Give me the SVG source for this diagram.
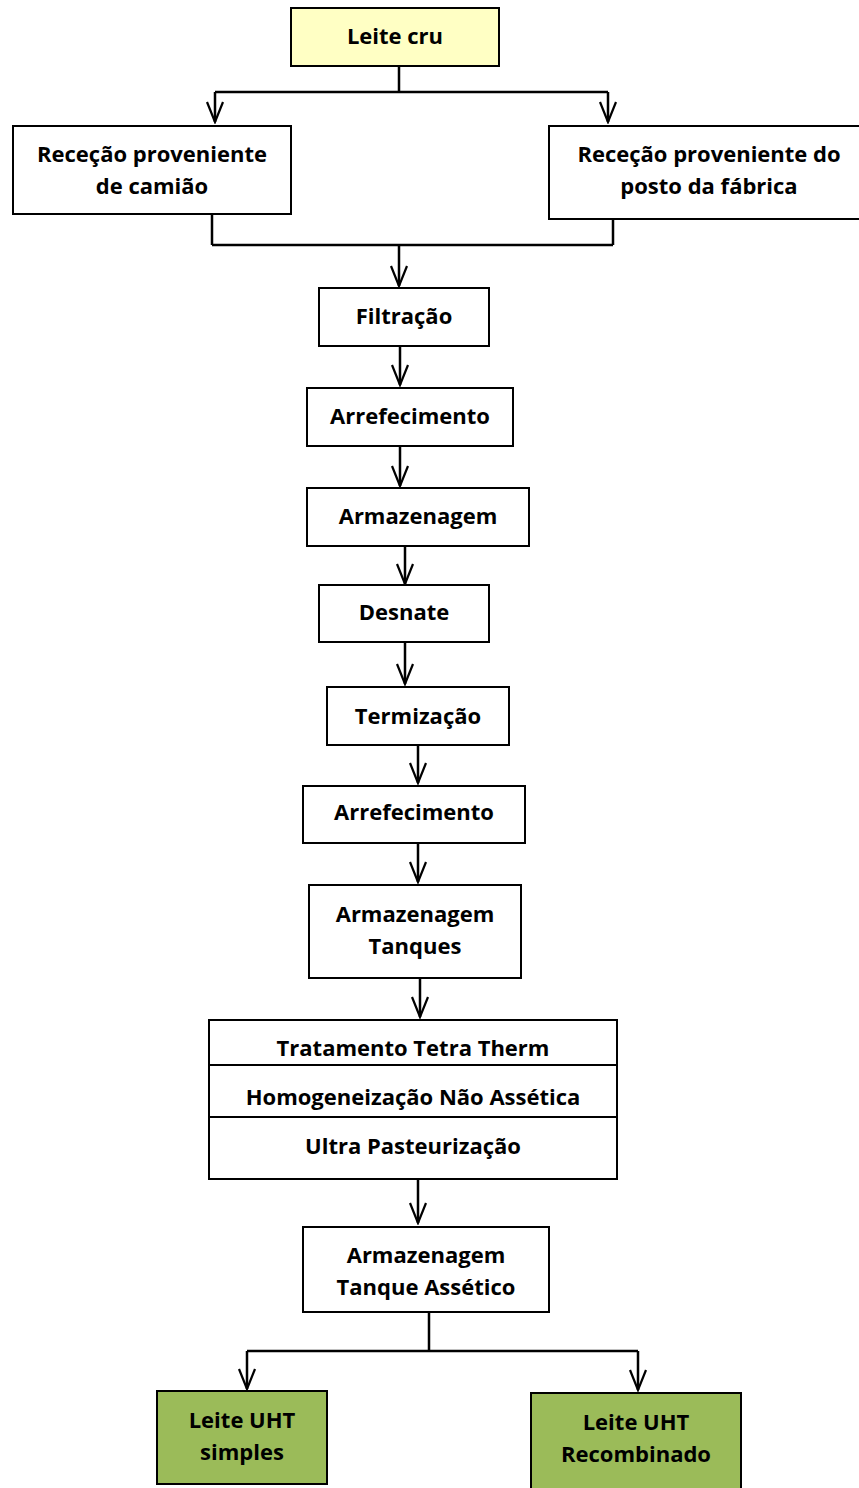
<svg xmlns="http://www.w3.org/2000/svg" width="859" height="1488" viewBox="0 0 859 1488">
<defs>
<style>
.box{fill:#fff;stroke:#000;stroke-width:2}
.start{fill:#ffffc4;stroke:#000;stroke-width:2}
.end{fill:#9bbb59;stroke:#000;stroke-width:2}
.t{font-family:"Open Sans",Lato,"Liberation Sans",sans-serif;font-weight:bold;font-size:22px;fill:#000;text-anchor:middle;dominant-baseline:central}
.c{fill:none;stroke:#000;stroke-width:2.5}
</style>
<marker id="ah" viewBox="0 0 24 20" refX="22" refY="10" markerWidth="24" markerHeight="20" markerUnits="userSpaceOnUse" orient="auto">
<path d="M2 2 L22 10 L2 18" fill="none" stroke="#000" stroke-width="2.2"/>
</marker>
</defs>
<g id="connectors">
<path class="c" d="M399 66 V92 M215 92 H608"/>
<path class="c" d="M215 92 V122" marker-end="url(#ah)"/>
<path class="c" d="M608 92 V122" marker-end="url(#ah)"/>
<path class="c" d="M212 214 V245 M613 219 V245 M212 245 H613"/>
<path class="c" d="M399 245 V286" marker-end="url(#ah)"/>
<path class="c" d="M400 346 V385" marker-end="url(#ah)"/>
<path class="c" d="M400 446 V486" marker-end="url(#ah)"/>
<path class="c" d="M405 546 V584" marker-end="url(#ah)"/>
<path class="c" d="M405 642 V684" marker-end="url(#ah)"/>
<path class="c" d="M418 745 V783" marker-end="url(#ah)"/>
<path class="c" d="M418 843 V882" marker-end="url(#ah)"/>
<path class="c" d="M420 978 V1017" marker-end="url(#ah)"/>
<path class="c" d="M418 1179 V1223" marker-end="url(#ah)"/>
<path class="c" d="M429 1312 V1351 M247 1351 H638"/>
<path class="c" d="M247 1351 V1389" marker-end="url(#ah)"/>
<path class="c" d="M638 1351 V1390" marker-end="url(#ah)"/>
</g>
<g id="n-leite-cru"><rect class="start" x="291" y="8" width="208" height="58"/><text class="t" x="395" y="35">Leite cru</text></g>
<g id="n-rececao-camiao"><rect class="box" x="13" y="126" width="278" height="88"/><text class="t" x="152" y="153">Receção proveniente</text><text class="t" x="152" y="185">de camião</text></g>
<g id="n-rececao-posto"><rect class="box" x="549" y="126" width="312" height="93"/><text class="t" x="709" y="153">Receção proveniente do</text><text class="t" x="709" y="185">posto da fábrica</text></g>
<g id="n-filtracao"><rect class="box" x="319" y="288" width="170" height="58"/><text class="t" x="404" y="315">Filtração</text></g>
<g id="n-arrefecimento1"><rect class="box" x="307" y="388" width="206" height="58"/><text class="t" x="410" y="415">Arrefecimento</text></g>
<g id="n-armazenagem1"><rect class="box" x="307" y="488" width="222" height="58"/><text class="t" x="418" y="515">Armazenagem</text></g>
<g id="n-desnate"><rect class="box" x="319" y="585" width="170" height="57"/><text class="t" x="404" y="611">Desnate</text></g>
<g id="n-termizacao"><rect class="box" x="327" y="687" width="182" height="58"/><text class="t" x="418" y="715">Termização</text></g>
<g id="n-arrefecimento2"><rect class="box" x="303" y="786" width="222" height="57"/><text class="t" x="414" y="811">Arrefecimento</text></g>
<g id="n-armazenagem-tanques"><rect class="box" x="309" y="885" width="212" height="93"/><text class="t" x="415" y="913">Armazenagem</text><text class="t" x="415" y="945">Tanques</text></g>
<g id="n-tratamento"><rect class="box" x="209" y="1020" width="408" height="159"/><path d="M209 1065 H617 M209 1117 H617" stroke="#000" stroke-width="2"/><text class="t" x="413" y="1047">Tratamento Tetra Therm</text><text class="t" x="413" y="1096">Homogeneização Não Assética</text><text class="t" x="413" y="1145">Ultra Pasteurização</text></g>
<g id="n-armazenagem-assetico"><rect class="box" x="303" y="1227" width="246" height="85"/><text class="t" x="426" y="1254">Armazenagem</text><text class="t" x="426" y="1286">Tanque Assético</text></g>
<g id="n-uht-simples"><rect class="end" x="157" y="1391" width="170" height="93"/><text class="t" x="242" y="1419">Leite UHT</text><text class="t" x="242" y="1451">simples</text></g>
<g id="n-uht-recombinado"><rect class="end" x="531" y="1393" width="210" height="100"/><text class="t" x="636" y="1421">Leite UHT</text><text class="t" x="636" y="1453">Recombinado</text></g>
</svg>
